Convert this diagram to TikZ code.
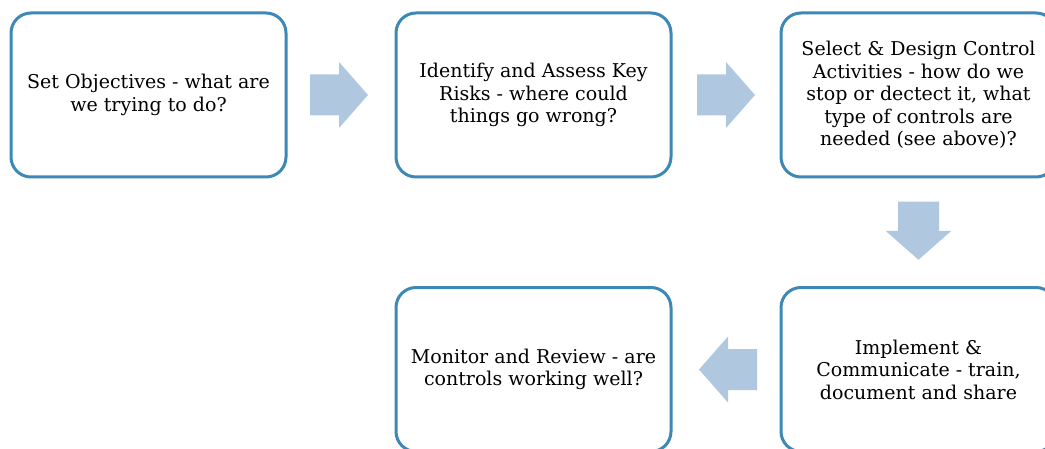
\documentclass[tikz,border=0pt]{standalone}
\usepackage{fontspec}
\setmainfont{DejaVu Serif}
\usetikzlibrary{calc}
\definecolor{boxline}{RGB}{62,136,182}
\definecolor{arrowfill}{RGB}{176,200,223}
\tikzset{
  stepbox/.style={draw=boxline, line width=3pt, rounded corners=20pt, fill=white,
    minimum width=275pt, minimum height=164pt, inner sep=0pt, align=center,
    font=\fontsize{19}{22.5}\selectfont},
  flowarrow/.pic={\fill[arrowfill] (-29,-20.5) -- (0,-20.5) -- (0,-33) -- (29,0)
    -- (0,33) -- (0,20.5) -- (-29,20.5) -- cycle;}
}
\begin{document}
\begin{tikzpicture}[x=1pt,y=1pt]
\useasboundingbox (0,0) rectangle (1045,448);
\fill[white] (0,0) rectangle (1045,448);
\clip (0,0) rectangle (1045,448);
% process steps
\node[stepbox] (obj) at (148.5,353) {Set Objectives - what are\\we trying to do?};
\node[stepbox] (risk) at (533.5,353) {Identify and Assess Key\\Risks - where could\\things go wrong?};
\node[stepbox] (ctrl) at (918.5,353) {Select \& Design Control\\Activities - how do we\\stop or dectect it, what\\type of controls are\\needed (see above)?};
\node[stepbox] (impl) at (918.5,78.5) {Implement \&\\Communicate - train,\\document and share};
\node[stepbox] (mon) at (533.5,78.5) {Monitor and Review - are\\controls working well?};
% block arrows between steps
\pic at ($(obj.east)!0.5!(risk.west)+(-2,0)$) {flowarrow};
\pic at ($(risk.east)!0.5!(ctrl.west)$) {flowarrow};
\pic[rotate=-90] at ($(ctrl.south)!0.5!(impl.north)+(0,1.5)$) {flowarrow};
\pic[rotate=180] at ($(impl.west)!0.5!(mon.east)+(2,0)$) {flowarrow};
\end{tikzpicture}
\end{document}
